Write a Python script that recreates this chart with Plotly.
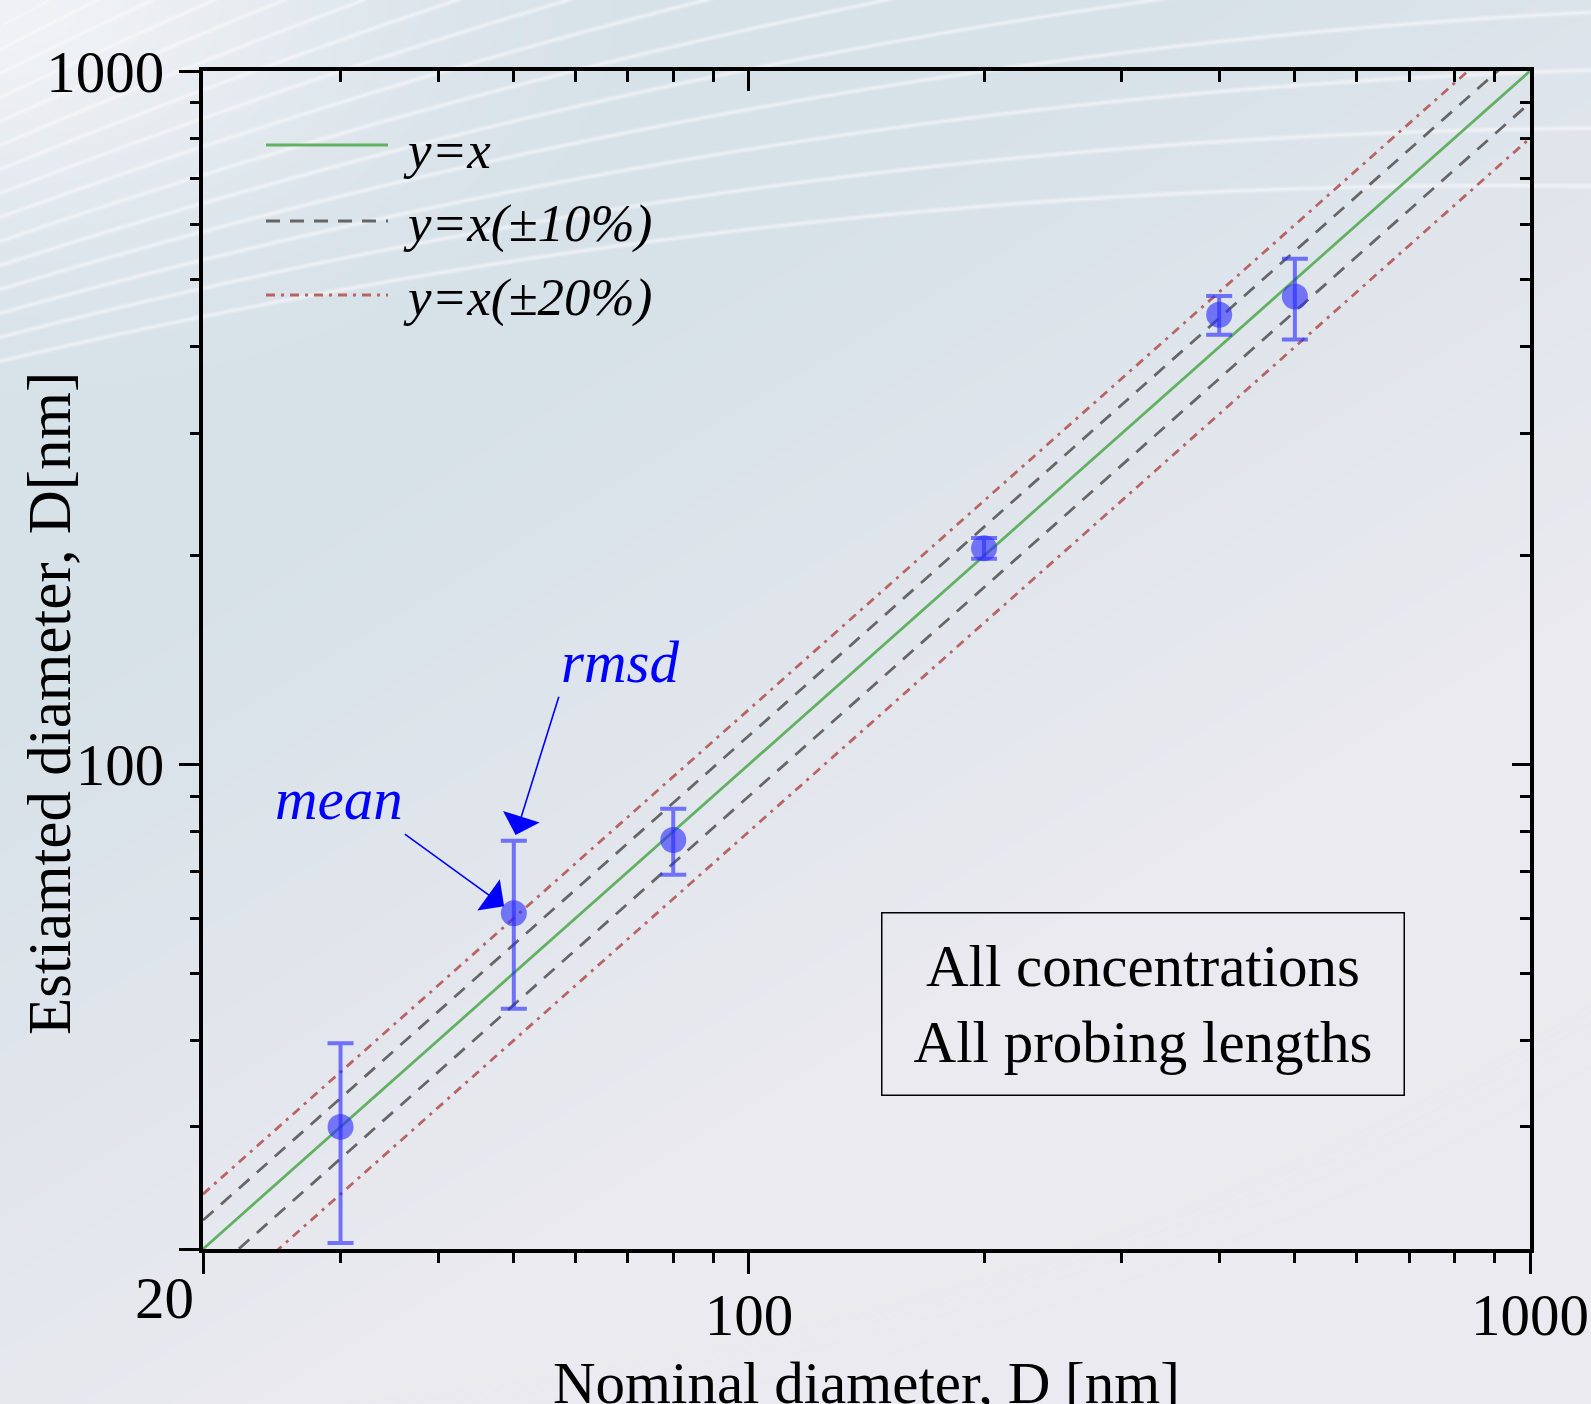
import base64, struct, zlib
import numpy as np
import plotly.graph_objects as go

# ---------------- data ----------------
nominal = [30, 50, 80, 200, 400, 500]
estimated = [30.0, 61.0, 77.8, 205.0, 445.0, 473.0]
rmsd = [9.6, 16.6, 8.5, 7.0, 28.6, 63.0]

ref_x = [20, 1000]
band_10 = [0.9, 1.1]
band_20 = [0.8, 1.2]

major_ticks = [20, 100, 1000]
major_text = ["", "100", "1000"]
minor_ticks = [30, 40, 50, 60, 70, 80, 90, 200, 300, 400, 500, 600, 700, 800, 900]

legend_labels = ["y=x", "y=x(\u00b110%)", "y=x(\u00b120%)"]

FONT = "Liberation Serif"
W, H = 1591, 1404
ML, MR, MT, MB = 203, 61, 71, 155
PW, PH = W - ML - MR, H - MT - MB

# ---------------- background picture (decorative) ----------------
def make_png(arr):
    h, w, _ = arr.shape
    raw = b"".join(b"\x00" + arr[i].tobytes() for i in range(h))
    def chunk(t, d):
        return struct.pack(">I", len(d)) + t + d + struct.pack(">I", zlib.crc32(t + d) & 0xffffffff)
    return (b"\x89PNG\r\n\x1a\n" + chunk(b"IHDR", struct.pack(">IIBBBBB", w, h, 8, 2, 0, 0, 0))
            + chunk(b"IDAT", zlib.compress(raw, 9)) + chunk(b"IEND", b""))

s = 2
gw, gh = W // s, H // s
X, Y = np.meshgrid(np.arange(gw) * s, np.arange(gh) * s)
X = X.astype(float); Y = Y.astype(float)
c1 = np.array([214, 225, 232], float)
c2 = np.array([234, 234, 240], float)
t = np.clip((X * 0.6 + Y - 650) / 900, 0, 1)[..., None]
img = c1 * (1 - t) + c2 * t
haze = (np.exp(-((X / 380) ** 2 + (Y / 240) ** 2)) * 0.8)[..., None]
img = img * (1 - haze) + np.array([246, 246, 249], float) * haze
# white curved strands in the upper part
R, cx = 6500.0, 1500.0
cy = 360 + np.sqrt(R ** 2 - cx ** 2)
A = cy - np.sqrt(R ** 2 - (X - cx) ** 2)
d = 24 + 34 * (X / W)
u = (A - Y) / d
dist = np.abs(u - np.round(u)) * d
mask = ((u > -0.3) & (u < 14)).astype(float)
line_a = (np.exp(-(dist / 2.0) ** 2) * 0.7 * mask)[..., None]
img = img * (1 - line_a) + np.array([250, 250, 252], float) * line_a
img = np.clip(img, 0, 255).astype(np.uint8)
bg_uri = "data:image/png;base64," + base64.b64encode(make_png(img)).decode()

# ---------------- figure ----------------
fig = go.Figure()

RED = dict(color="#b86464", width=2.8, dash="9px,6px,3px,6px")
GRAY = dict(color="#666666", width=2.8, dash="14px,10px")
GREEN = dict(color="#62b062", width=2.8)

fig.add_trace(go.Scatter(x=ref_x, y=[v * band_20[0] for v in ref_x], mode="lines",
                         line=RED, showlegend=False, hoverinfo="skip"))
fig.add_trace(go.Scatter(x=ref_x, y=[v * band_20[1] for v in ref_x], mode="lines",
                         line=RED, showlegend=False, hoverinfo="skip"))
fig.add_trace(go.Scatter(x=ref_x, y=[v * band_10[0] for v in ref_x], mode="lines",
                         line=GRAY, showlegend=False, hoverinfo="skip"))
fig.add_trace(go.Scatter(x=ref_x, y=[v * band_10[1] for v in ref_x], mode="lines",
                         line=GRAY, showlegend=False, hoverinfo="skip"))
fig.add_trace(go.Scatter(x=ref_x, y=ref_x, mode="lines",
                         line=GREEN, showlegend=False, hoverinfo="skip"))

fig.add_trace(go.Scatter(
    x=nominal, y=estimated, mode="markers",
    marker=dict(size=26, color="rgba(40,40,255,0.6)", line=dict(width=0)),
    error_y=dict(type="data", array=rmsd, visible=True, color="rgba(40,40,255,0.62)",
                 thickness=4, width=13),
    showlegend=False))

# invisible trace for the mirrored (inside-tick) axes
fig.add_trace(go.Scatter(x=[None], y=[None], xaxis="x2", yaxis="y2", showlegend=False,
                         hoverinfo="skip"))

tickfont = dict(family=FONT, size=59, color="black")
rng = [np.log10(20), np.log10(1000)]

axis_common = dict(type="log", range=rng, tickmode="array", tickvals=major_ticks,
                   showgrid=False, zeroline=False, tickcolor="black", tickwidth=3,
                   automargin=False)

fig.update_layout(
    width=W, height=H,
    margin=dict(l=ML, r=MR, t=MT, b=MB, pad=0),
    paper_bgcolor="#e4e7ed", plot_bgcolor="rgba(0,0,0,0)",
    font=dict(family=FONT, color="black"),
    showlegend=False,
    xaxis=dict(**axis_common, ticktext=major_text, ticks="outside", ticklen=21,
               showline=True, linewidth=4, linecolor="black", mirror=True,
               tickfont=tickfont, ticklabelstandoff=-10,
               minor=dict(tickmode="array", tickvals=minor_ticks, ticks="outside",
                          ticklen=10, tickwidth=3, tickcolor="black", showgrid=False)),
    yaxis=dict(**axis_common, ticktext=major_text, ticks="outside", ticklen=20,
               showline=True, linewidth=4, linecolor="black", mirror=True,
               tickfont=tickfont, ticklabelstandoff=3,
               minor=dict(tickmode="array", tickvals=minor_ticks, ticks="outside",
                          ticklen=9, tickwidth=3, tickcolor="black", showgrid=False)),
    xaxis2=dict(**axis_common, overlaying="x", side="top", anchor="y", ticks="inside",
                ticklen=20, showticklabels=False, showline=False,
                minor=dict(tickmode="array", tickvals=minor_ticks, ticks="inside",
                           ticklen=11, tickwidth=3, tickcolor="black", showgrid=False)),
    yaxis2=dict(**axis_common, overlaying="y", side="right", anchor="x", ticks="inside",
                ticklen=18, showticklabels=False, showline=False,
                minor=dict(tickmode="array", tickvals=minor_ticks, ticks="inside",
                           ticklen=10, tickwidth=3, tickcolor="black", showgrid=False)),
    images=[dict(source=bg_uri, xref="paper", yref="paper",
                 x=-ML / PW, y=1 + MT / PH, sizex=W / PW, sizey=H / PH,
                 xanchor="left", yanchor="top", sizing="stretch", layer="below")],
)

def px_x(p):
    return (p - ML) / PW

def px_y(p):
    return 1 - (p - MT) / PH

# manual legend
leg_styles = [GREEN, GRAY, RED]
leg_line_y = [145, 221, 295]
leg_text_y = [150, 223, 297]
for lab, st, ly, ty in zip(legend_labels, leg_styles, leg_line_y, leg_text_y):
    fig.add_shape(type="line", xref="paper", yref="paper", x0=px_x(266), x1=px_x(388),
                  y0=px_y(ly), y1=px_y(ly), line=st)
    fig.add_annotation(xref="paper", yref="paper", x=px_x(401), y=px_y(ty),
                       xanchor="left", yanchor="middle", showarrow=False,
                       text="<i>" + lab + "</i>", font=dict(family=FONT, size=53, color="black"))

# text box
fig.add_annotation(xref="paper", yref="paper", x=px_x(1143), y=px_y(1004),
                   xanchor="center", yanchor="middle", showarrow=False,
                   text="All concentrations<br>All probing lengths",
                   font=dict(family=FONT, size=59, color="black"),
                   bordercolor="black", borderwidth=1.5, borderpad=8,
                   width=505, height=165, align="center", valign="middle")

# mean / rmsd annotations
fig.add_annotation(x=np.log10(nominal[1]), y=np.log10(estimated[1]), xref="x", yref="y",
                   text="<i>mean</i>", font=dict(family=FONT, size=59, color="blue"),
                   showarrow=True, ax=-109, ay=-79, xanchor="right", yanchor="bottom",
                   arrowcolor="blue", arrowwidth=1.6,
                   arrowhead=1, arrowsize=4, standoff=12)
fig.add_annotation(x=np.log10(nominal[1]), y=np.log10(estimated[1] + rmsd[1]), xref="x", yref="y",
                   text="<i>rmsd</i>", font=dict(family=FONT, size=59, color="blue"),
                   showarrow=True, ax=45, ay=-144, xanchor="left", yanchor="bottom",
                   arrowcolor="blue", arrowwidth=1.6,
                   arrowhead=1, arrowsize=4, standoff=6)

# shared "20" label and axis titles
fig.add_annotation(xref="paper", yref="paper", x=px_x(164), y=px_y(1298),
                   xanchor="center", yanchor="middle", showarrow=False, text="20",
                   font=tickfont)
fig.add_annotation(xref="paper", yref="paper", x=0.5, y=px_y(1383),
                   xanchor="center", yanchor="middle", showarrow=False,
                   text="Nominal diameter, D [nm]", font=dict(family=FONT, size=59, color="black"))
fig.add_annotation(xref="paper", yref="paper", x=px_x(49), y=px_y(704),
                   xanchor="center", yanchor="middle", showarrow=False, textangle=-90,
                   text="Estiamted diameter, D[nm]", font=dict(family=FONT, size=61, color="black"))

fig.write_html("out.html", config={"displayModeBar": False},
               post_script="document.body.style.margin='0px';"
                           "document.documentElement.style.overflow='hidden';")
